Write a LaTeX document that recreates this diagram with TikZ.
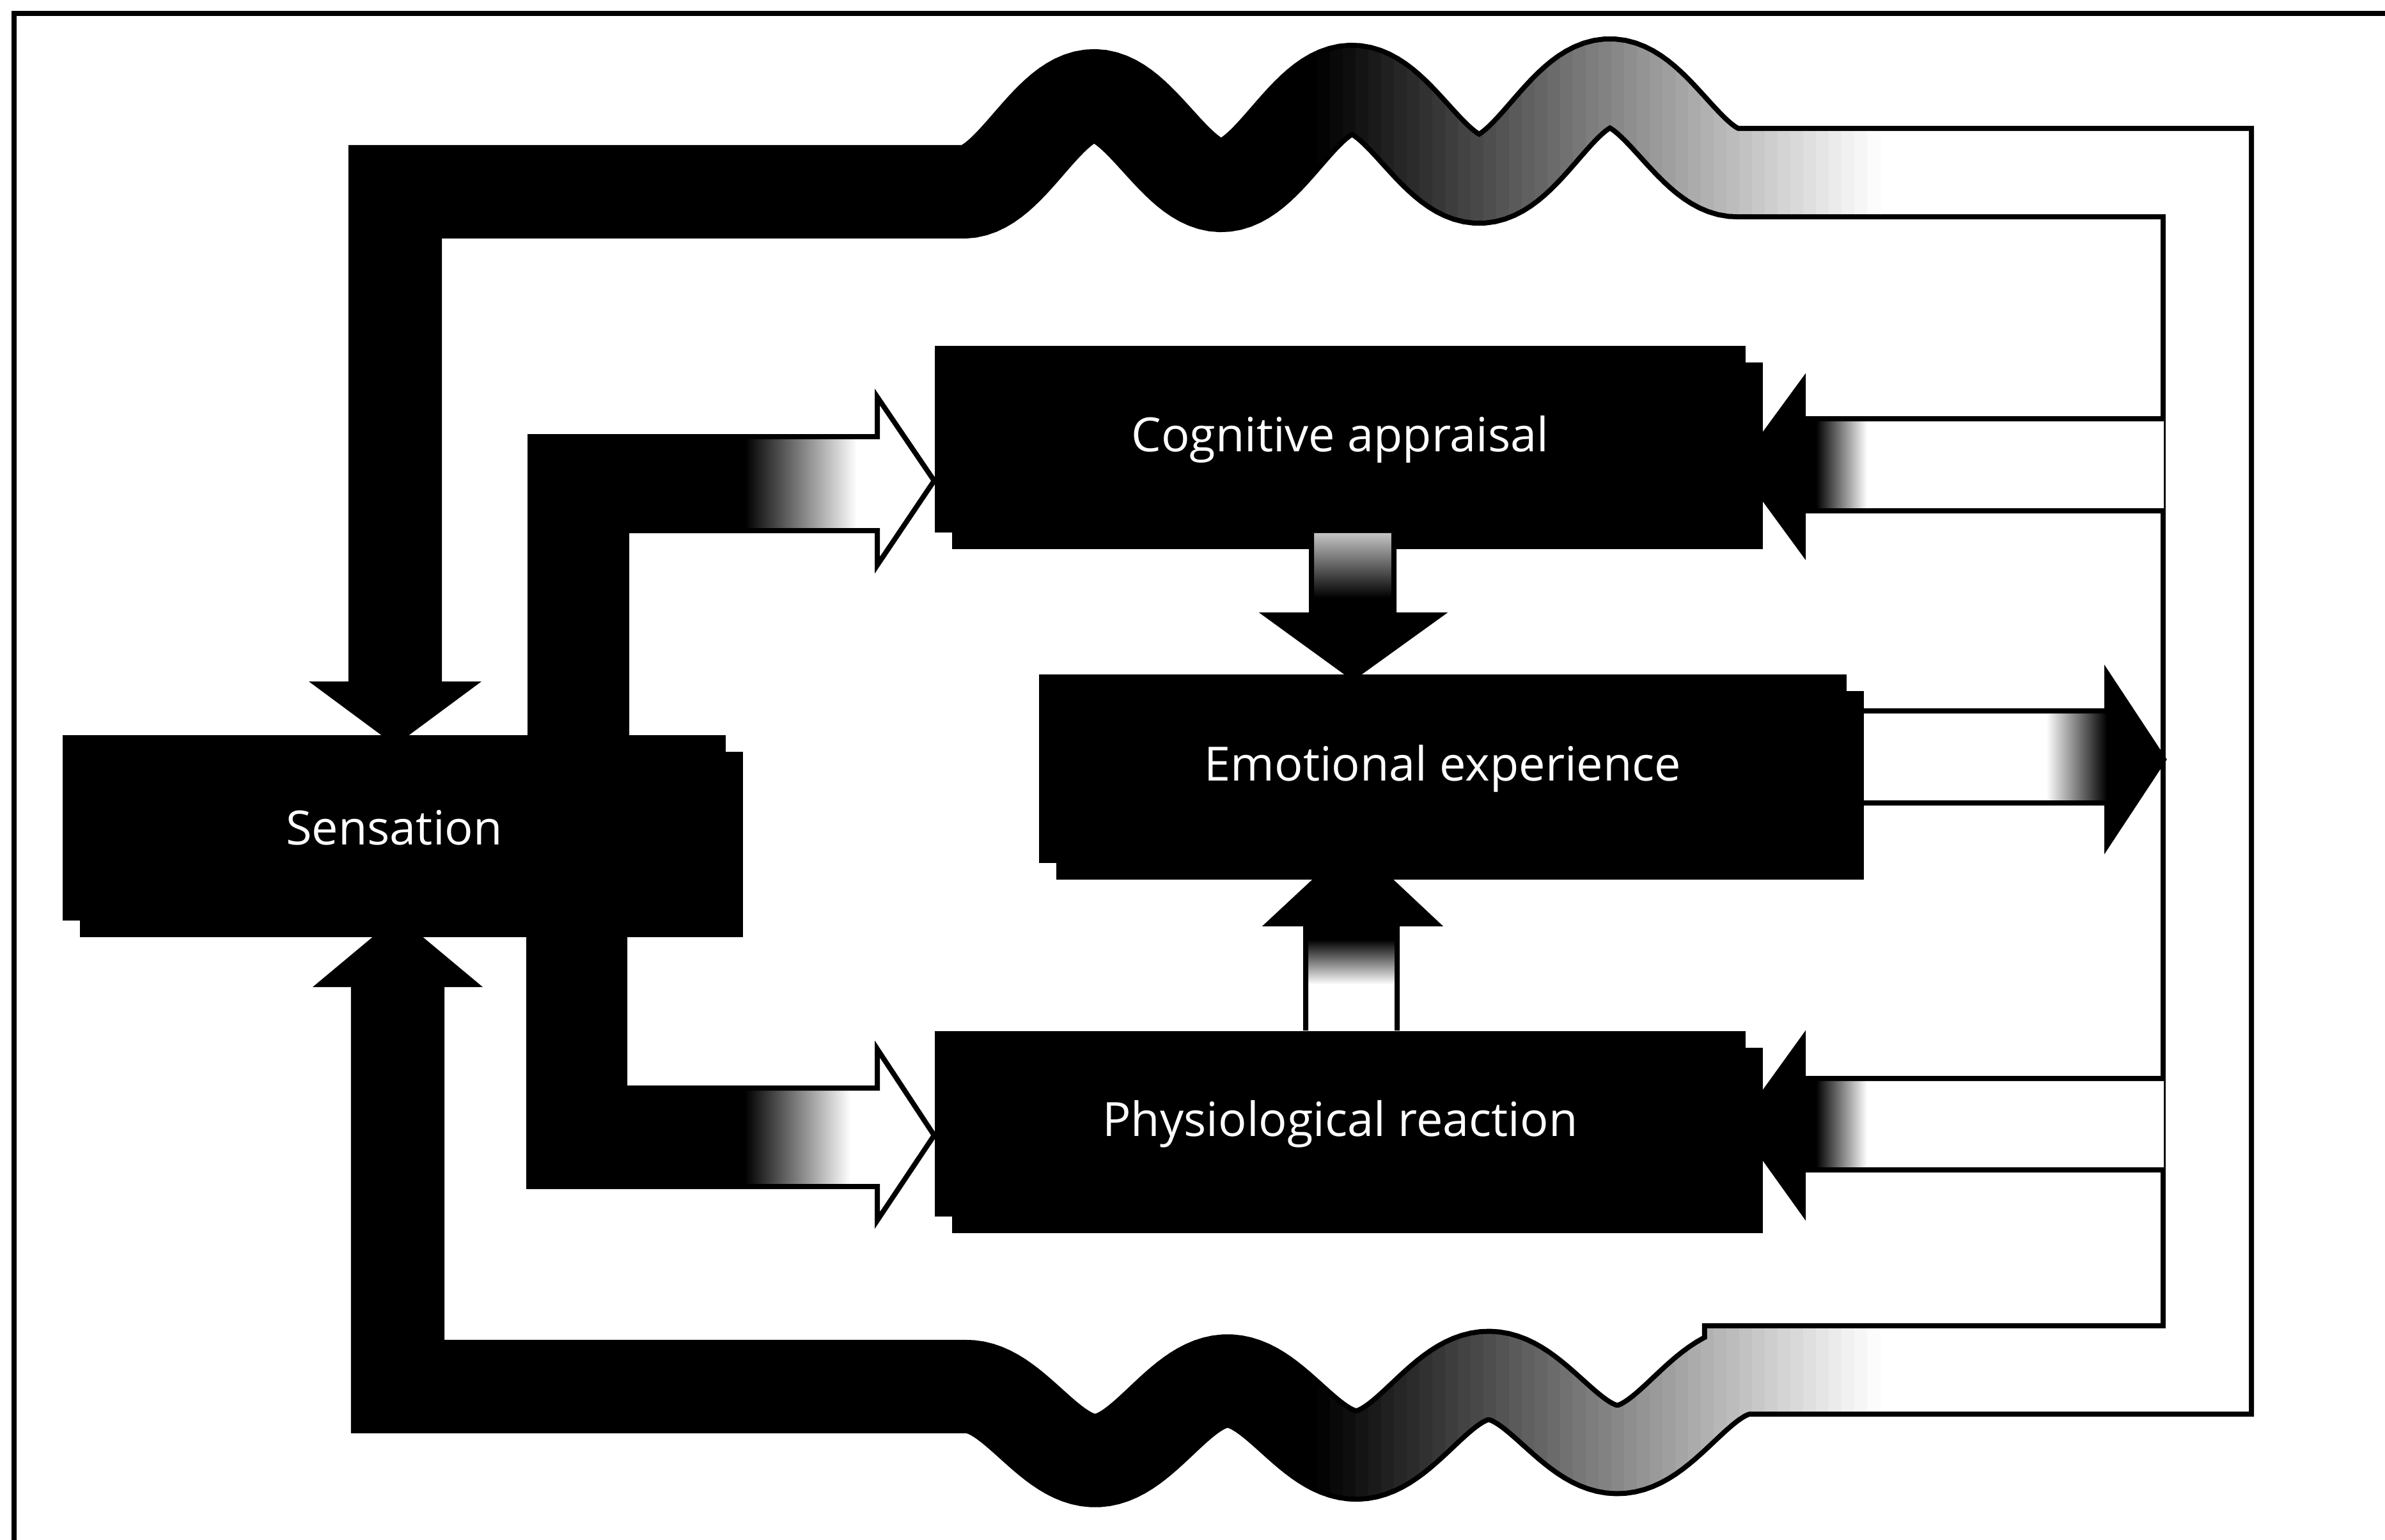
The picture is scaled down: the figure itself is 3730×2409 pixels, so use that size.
\documentclass[tikz,border=0pt]{standalone}
\usepackage{fontspec}
\setmainfont{Open Sans}
\usetikzlibrary{shadows,calc}
\pgfdeclarelayer{back}
\pgfsetlayers{back,main}

\begin{document}
\begin{tikzpicture}[x=0.01cm, y=-0.01cm,
  box/.style={fill=black, text=white, inner sep=0pt,
    font=\fontsize{21}{25}\selectfont,
    general shadow={fill=black, shadow xshift=0.27cm, shadow yshift=-0.26cm}},
  rim/.style={draw=black, line width=0.08cm, line join=miter},
  bandrim/.style={draw=black, line width=1.46cm, line join=miter},
  bandcore/.style={line width=1.30cm, line join=miter},
]
\useasboundingbox (0,0) rectangle (3730,2409);

% process boxes
\node[box, minimum width=10.37cm, minimum height=2.90cm] (sens) at (616.5,1295) {Sensation};
\node[box, minimum width=12.68cm, minimum height=2.92cm] (cog) at (2096,687) {Cognitive appraisal};
\node[box, minimum width=12.63cm, minimum height=2.95cm] (emo) at (2256.5,1202.5) {Emotional experience};
\node[box, minimum width=12.68cm, minimum height=2.90cm] (phys) at (2096,1758) {Physiological reaction};

\begin{pgfonlayer}{back}
\fill[white] (0,0) rectangle (3730,2409);
\draw[line width=0.08cm] (22,2440) -- (22,21) -- (3760,21);

% feedback loop: out of the right-hand column, along the top and bottom waves, back into Sensation
\def\looppath{(618,1066) -- (618,300) -- (1508,300)
  -- plot[domain=1508:2718, samples=161] (\x, {300-0.024793*(\x-1508)-72.5*(1-cos(0.892569*(\x-1508)))})
  -- (3452,270) -- (3452,2143) -- (2735,2143)
  -- plot[domain=2735:1510, samples=161] (\x, {2169-0.021224*(\x-1510)+60*(1-cos(0.881640*(\x-1510)))})
  -- (622,2169) -- (622,1544)}
\draw[bandrim] \looppath;
\begin{scope}
  \clip (2940,0) rectangle (3730,2409);
  \draw[bandcore, white] \looppath;
\end{scope}
\foreach \i in {0,...,43}{
  \pgfmathsetmacro{\xa}{2060+20*\i}
  \pgfmathsetmacro{\xb}{2081+20*\i}
  \pgfmathsetmacro{\shadeval}{100-100*(\i+0.5)/44}
  \begin{scope}
    \clip (\xa,0) rectangle (\xb,2409);
    \draw[bandcore, draw=black!\shadeval] \looppath;
  \end{scope}
}
% heads of the loop entering Sensation
\coordinate (tipT) at (618,1166);
\coordinate (tipB) at (622,1433);
\fill (483,1066) -- (753,1066) -- (tipT) -- cycle;
\fill (489,1544) -- (755,1544) -- (tipB) -- cycle;

% Sensation -> Cognitive appraisal
\def\pcog{(829,1200) -- (829,683) -- (1372,683) -- (1372,621) -- (cog.west |- 0,752) -- (1372,884) -- (1372,830) -- (980,830) -- (980,1200) -- cycle}
\begin{scope}
  \clip \pcog;
  \fill[black] (800,600) rectangle (1165,1250);
  \shade[left color=black, right color=white] (1165,600) rectangle (1340,1250);
  \fill[white] (1340,600) rectangle (1500,1250);
\end{scope}
\draw[rim] \pcog;

% Sensation -> Physiological reaction
\def\pphys{(827,1400) -- (827,1856) -- (1372,1856) -- (1372,1909) -- (phys.west |- 0,1776) -- (1372,1641) -- (1372,1702) -- (977,1702) -- (977,1400) -- cycle}
\begin{scope}
  \clip \pphys;
  \fill[black] (800,1350) rectangle (1165,1950);
  \shade[left color=black, right color=white] (1165,1350) rectangle (1330,1950);
  \fill[white] (1330,1350) rectangle (1500,1950);
\end{scope}
\draw[rim] \pphys;

% loop -> Cognitive appraisal
\def\fcog{(3384,655) -- (2820,655) -- (2820,596) -- (2722,730) -- (2820,864) -- (2820,799) -- (3384,799)}
\begin{scope}
  \clip \fcog -- cycle;
  \fill[black] (2700,550) rectangle (2840,900);
  \shade[left color=black, right color=white] (2840,550) rectangle (2920,900);
  \fill[white] (2920,550) rectangle (3390,900);
\end{scope}
\draw[rim] \fcog;

% loop -> Physiological reaction
\def\fphys{(3384,1687) -- (2820,1687) -- (2820,1624) -- (2722,1760) -- (2820,1897) -- (2820,1830) -- (3384,1830)}
\begin{scope}
  \clip \fphys -- cycle;
  \fill[black] (2700,1600) rectangle (2840,1920);
  \shade[left color=black, right color=white] (2840,1600) rectangle (2920,1920);
  \fill[white] (2920,1600) rectangle (3390,1920);
\end{scope}
\draw[rim] \fphys;

% Emotional experience -> loop
\def\pout{(emo.east |- 0,1112) -- (3295,1112) -- (3295,1053) -- (3384,1188) -- (3295,1323) -- (3295,1256) -- (emo.east |- 0,1256)}
\begin{scope}
  \clip \pout -- cycle;
  \fill[white] (2880,1000) rectangle (3200,1350);
  \shade[left color=white, right color=black] (3200,1000) rectangle (3295,1350);
  \fill[black] (3295,1000) rectangle (3400,1350);
\end{scope}
\draw[rim] \pout;

% Physiological reaction -> Emotional experience
\def\pup{(2042,0 |- phys.north) -- (2042,1445) -- (1984,1445) -- (2116,1322) -- (2247,1445) -- (2185,1445) -- (2185,0 |- phys.north)}
\begin{scope}
  \clip \pup -- cycle;
  \fill[black] (1950,1300) rectangle (2300,1470);
  \shade[top color=black, bottom color=white] (1950,1470) rectangle (2300,1540);
  \fill[white] (1950,1540) rectangle (2300,1620);
\end{scope}
\draw[rim] \pup;
\end{pgfonlayer}

% Cognitive appraisal -> Emotional experience
\def\pdown{(2051,0 |- cog.south) -- (2051,962) -- (1981,962) -- (2116,1060) -- (2252,962) -- (2180,962) -- (2180,0 |- cog.south)}
\begin{scope}
  \clip \pdown -- cycle;
  \shade[top color=black!20, bottom color=black] (1950,830) rectangle (2300,935);
  \fill[black] (1950,935) rectangle (2300,1070);
\end{scope}
\draw[rim] \pdown;
\end{tikzpicture}
\end{document}
